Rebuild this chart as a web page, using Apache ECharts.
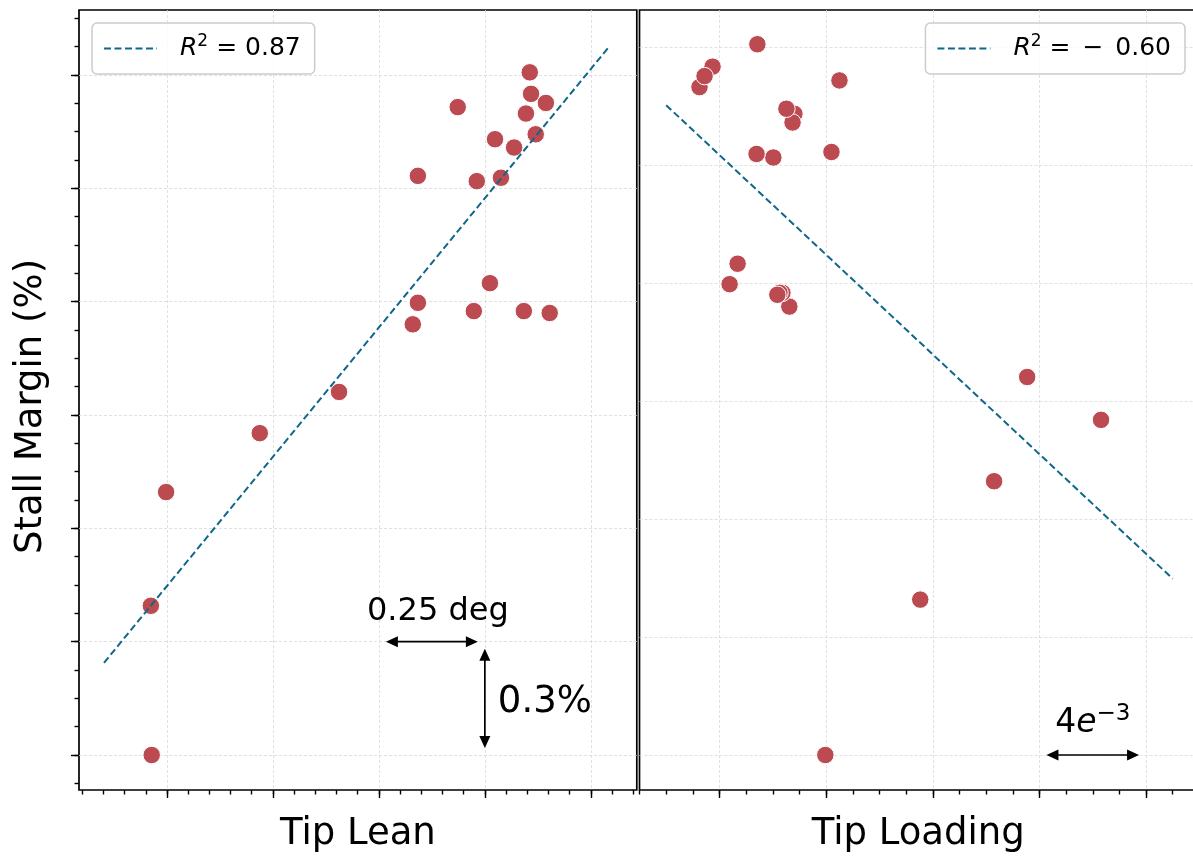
<!DOCTYPE html>
<html>
<head>
<meta charset="utf-8">
<title>Stall margin vs tip lean and tip loading</title>
<script src="https://cdn.jsdelivr.net/npm/echarts@6/dist/echarts.min.js"></script>
<style>
  html, body { margin: 0; padding: 0; background: #fff; }
  #chart { width: 1193px; height: 859px; }
</style>
</head>
<body>
<div id="chart"></div>
<script>
// one entry per case, same order in every array
const stallMargin = [0.000, 0.395, 0.696, 0.852, 0.961, 1.140, 1.197, 1.175, 1.249, 1.175, 1.170,
                     1.533, 1.715, 1.519, 1.630, 1.528, 1.608, 1.698, 1.750, 1.807, 1.726, 1.643]  // %
const tipLean = [-0.036, -0.038, -0.002, 0.219, 0.406, 0.580, 0.592, 0.724, 0.762, 0.842, 0.903,
                 0.592, 0.686, 0.731, 0.774, 0.788, 0.819, 0.847, 0.859, 0.856, 0.894, 0.870]  // deg
const tipLoading = [3.97, 7.53, 10.30, 14.31, 11.54, 2.62, 0.38, 2.36, 0.68, 2.25, 2.17,
                    4.20, 4.50, 2.02, 2.81, 1.39, 2.74, -0.75, -0.26, 1.42, -0.56, 2.51]  // x 1e-3

// dashed model lines (end points)
const leanFitX = [-0.1485, 1.0425]
const leanFitY = [0.244, 1.874]
const loadFitX = [-2.00, 17.00]
const loadFitY = [1.652, 0.448]

// scale bars [x0, y0, x1, y1] and their labels
const leanBars = [[0.5, 0.3, 0.75, 0.3], [0.75, 0, 0.75, 0.3]]
const leanBarLabels = ['0.25 deg', '0.3%']
const loadBars = [[12, 0, 16, 0]]
const loadBarLabels = ['4e-3']

const FONT = 'DejaVu Sans'
const DOT = '#bb4a51'
const FIT = '#0f678a'
const GRIDLINE = { color: '#d9d9d9', width: 0.8, type: [3, 2] }

const grids = [], xAxes = [], yAxes = []

function addGrid(rect, xAxis, yAxis) {
  const i = grids.length
  grids.push(Object.assign({ show: false, containLabel: false, outerBoundsMode: 'none' }, rect))
  const base = {
    type: 'value', gridIndex: i,
    axisLine: { show: false, onZero: false }, axisTick: { show: false },
    axisLabel: { show: false }, splitLine: { show: false }
  }
  xAxes.push(Object.assign({}, base, { position: 'bottom' }, xAxis))
  yAxes.push(Object.assign({}, base, { position: 'left' }, yAxis))
  return i
}

// rect inside a frame that covers value spans xs, ys
function subRect(p, xs, ys) {
  const f = p.frame
  const kx = f.width / (p.xRange[1] - p.xRange[0])
  const ky = f.height / (p.yRange[1] - p.yRange[0])
  return {
    left: f.left + (xs[0] - p.xRange[0]) * kx,
    width: (xs[1] - xs[0]) * kx,
    top: f.top + (p.yRange[1] - ys[1]) * ky,
    height: (ys[1] - ys[0]) * ky
  }
}

function tickAxis(spec, len, split) {
  return {
    min: spec[0], max: spec[1], interval: spec[2],
    axisTick: { show: len > 0, length: len, inside: false, lineStyle: { color: '#000', width: 1.4 } },
    splitLine: { show: split, lineStyle: GRIDLINE }
  }
}

function hiddenAxis(range) {
  return { min: range[0], max: range[1], show: false }
}

const nameStyle = { fontFamily: FONT, fontSize: 37, color: '#000' }

function buildPanel(p) {
  const frame = addGrid(
    Object.assign({ show: true, borderColor: '#000', borderWidth: 1.7, backgroundColor: 'transparent' }, p.frame),
    { min: p.xRange[0], max: p.xRange[1], name: p.xName, nameLocation: 'middle', nameGap: 26, nameTextStyle: nameStyle },
    {
      min: p.yRange[0], max: p.yRange[1], name: p.yName || '', nameLocation: 'middle', nameGap: 29,
      nameTextStyle: Object.assign({ padding: [0, 13, 0, 0] }, nameStyle)
    }
  )
  addGrid(subRect(p, p.xMajor, p.yRange), tickAxis(p.xMajor, 8, true), hiddenAxis(p.yRange))
  addGrid(subRect(p, p.xMinor, p.yRange), tickAxis(p.xMinor, 4.5, false), hiddenAxis(p.yRange))
  addGrid(subRect(p, p.xRange, p.yMajor), hiddenAxis(p.xRange), tickAxis(p.yMajor, p.yTicks ? 8 : 0, true))
  if (p.yMinor) {
    addGrid(subRect(p, p.xRange, p.yMinor), hiddenAxis(p.xRange), tickAxis(p.yMinor, 4.5, false))
  }
  return frame
}

const lean = buildPanel({
  frame: { left: 79, top: 10, width: 557.8, height: 780 },
  xRange: [-0.2075, 1.1085], yRange: [-0.0926, 1.972],
  xMajor: [0, 1.0, 0.25], xMinor: [-0.2, 1.1, 0.05],
  yMajor: [0, 1.8, 0.3], yMinor: [-0.075, 1.95, 0.075], yTicks: true,
  xName: 'Tip Lean', yName: 'Stall Margin (%)'
})
const load = buildPanel({
  frame: { left: 639.5, top: 10, width: 557.5, height: 780 },
  xRange: [-3, 17.91], yRange: [-0.089, 1.894],
  xMajor: [0, 16, 4], xMinor: [-3, 17, 1],
  yMajor: [0, 1.8, 0.3], yTicks: false,
  xName: 'Tip Loading'
})

const superRich = {
  i: { fontFamily: FONT, fontSize: 25, fontStyle: 'italic', color: '#000' },
  s: { fontFamily: FONT, fontSize: 17, color: '#000', padding: [0, 0, 14, 0] },
  t: { fontFamily: FONT, fontSize: 25, color: '#000' },
  m: { fontFamily: FONT, fontSize: 25, color: '#000', padding: [0, 4, 0, 4] }
}

function legendFor(name, text, pos) {
  return Object.assign({
    data: [name], selectedMode: false,
    itemWidth: 53, itemHeight: 14,
    padding: [10, 14, 10, 11],
    backgroundColor: 'rgba(255,255,255,0.8)',
    borderColor: '#cccccc', borderWidth: 1.5, borderRadius: 5,
    itemStyle: { opacity: 0, borderWidth: 0 },
    lineStyle: { width: 2 },
    formatter: () => text,
    textStyle: { fontFamily: FONT, fontSize: 25, color: '#000', lineHeight: 31, padding: [0, 0, 0, 18], rich: superRich }
  }, pos)
}

const barText = {
  '0.25 deg': { dx: 6, dy: -14, align: 'center', verticalAlign: 'bottom', text: '0.25 deg', fontSize: 32 },
  '0.3%': { dx: 13, dy: 4, align: 'left', verticalAlign: 'middle', text: '0.3%', fontSize: 37 },
  '4e-3': {
    dx: 0, dy: -32, align: 'center', verticalAlign: 'middle', fontSize: 33,
    text: '{n|4}{e|e}{s|\u22123}',
    rich: {
      n: { fontFamily: FONT, fontSize: 33, fill: '#000' },
      e: { fontFamily: FONT, fontSize: 33, fontStyle: 'italic', fill: '#000' },
      s: { fontFamily: FONT, fontSize: 23, fill: '#000', padding: [0, 0, 18, 0] }
    }
  }
}

// double headed arrow, pulled in 7px from both data ends like matplotlib's shrink
function scaleBar(labels) {
  return function (params, api) {
    const a = api.coord([api.value(0), api.value(1)])
    const b = api.coord([api.value(2), api.value(3)])
    const dx = b[0] - a[0], dy = b[1] - a[1]
    const len = Math.hypot(dx, dy)
    const ux = dx / len, uy = dy / len
    const shrink = 7, head = 12, half = 5.5
    const p0 = [a[0] + ux * shrink, a[1] + uy * shrink]
    const p1 = [b[0] - ux * shrink, b[1] - uy * shrink]
    const tri = (tip, sx, sy) => {
      const bx = tip[0] + sx * head, by = tip[1] + sy * head
      return {
        type: 'polygon',
        shape: { points: [tip, [bx - sy * half, by + sx * half], [bx + sy * half, by - sx * half]] },
        style: { fill: '#000' }
      }
    }
    const t = barText[labels[params.dataIndex]]
    const mid = [(a[0] + b[0]) / 2, (a[1] + b[1]) / 2]
    return {
      type: 'group',
      children: [
        {
          type: 'line',
          shape: { x1: p0[0] + ux * 4, y1: p0[1] + uy * 4, x2: p1[0] - ux * 4, y2: p1[1] - uy * 4 },
          style: { stroke: '#000', lineWidth: 1.7 }
        },
        tri(p0, ux, uy),
        tri(p1, -ux, -uy),
        {
          type: 'text', x: mid[0] + t.dx, y: mid[1] + t.dy,
          style: {
            text: t.text, rich: t.rich, fontFamily: FONT, fontSize: t.fontSize,
            fill: '#000', align: t.align, verticalAlign: t.verticalAlign
          }
        }
      ]
    }
  }
}

const dotStyle = { color: DOT, borderColor: '#fff', borderWidth: 1, opacity: 1 }
const fitLine = { color: FIT, width: 2, type: [7, 3.5] }

const chart = echarts.init(document.getElementById('chart'), null, { renderer: 'canvas' })
chart.setOption({
  animation: false,
  backgroundColor: '#fff',
  textStyle: { fontFamily: FONT },
  grid: grids,
  xAxis: xAxes,
  yAxis: yAxes,
  legend: [
    legendFor('leanFit', '{i|R}{s|2}{t| = 0.87}', { left: 92, top: 23 }),
    legendFor('loadFit', '{i|R}{s|2}{t| =}{m| \u2212}{t| 0.60}', { right: 8, top: 23 })
  ],
  series: [
    {
      type: 'scatter', xAxisIndex: lean, yAxisIndex: lean,
      data: tipLean.map((x, i) => [x, stallMargin[i]]),
      symbolSize: 17.5, itemStyle: dotStyle, z: 3
    },
    {
      name: 'leanFit', type: 'line', xAxisIndex: lean, yAxisIndex: lean,
      data: leanFitX.map((x, i) => [x, leanFitY[i]]),
      symbol: 'none', lineStyle: fitLine, itemStyle: { color: FIT }, z: 4
    },
    {
      type: 'custom', xAxisIndex: lean, yAxisIndex: lean, clip: false,
      renderItem: scaleBar(leanBarLabels), data: leanBars,
      encode: { x: [0, 2], y: [1, 3] }, z: 5
    },
    {
      type: 'scatter', xAxisIndex: load, yAxisIndex: load,
      data: tipLoading.map((x, i) => [x, stallMargin[i]]),
      symbolSize: 17.5, itemStyle: dotStyle, z: 3
    },
    {
      name: 'loadFit', type: 'line', xAxisIndex: load, yAxisIndex: load,
      data: loadFitX.map((x, i) => [x, loadFitY[i]]),
      symbol: 'none', lineStyle: fitLine, itemStyle: { color: FIT }, z: 4
    },
    {
      type: 'custom', xAxisIndex: load, yAxisIndex: load, clip: false,
      renderItem: scaleBar(loadBarLabels), data: loadBars,
      encode: { x: [0, 2], y: [1, 3] }, z: 5
    }
  ]
})
</script>
</body>
</html>
